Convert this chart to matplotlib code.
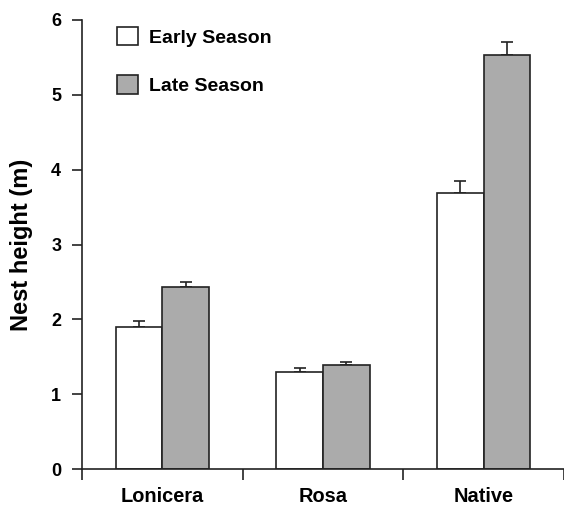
import matplotlib
matplotlib.use('Agg')
import matplotlib.pyplot as plt
import numpy as np

plt.rcParams['font.family'] = ['Liberation Sans', 'DejaVu Sans']
plt.rcParams['font.weight'] = 'bold'

# data
categories = ['Lonicera', 'Rosa', 'Native']
early = [1.90, 1.30, 3.69]
early_se = [0.08, 0.05, 0.16]
late = [2.43, 1.39, 5.53]
late_se = [0.07, 0.04, 0.17]
series_names = ['Early Season', 'Late Season']

fig = plt.figure(figsize=(5.64, 5.08), dpi=100)
ax = fig.add_axes([82/564, 39/508, 482/564, 449/508])

x = np.arange(len(categories)) + 0.5
w = 0.29
edge = '#222222'
ax.bar(x - w/2, early, w, color='white', edgecolor=edge, linewidth=1.2,
       label=series_names[0], zorder=2)
ax.bar(x + w/2, late, w, color='#ababab', edgecolor=edge, linewidth=1.2,
       label=series_names[1], zorder=2)
ax.errorbar(x - w/2, early, yerr=[np.zeros(3), early_se], fmt='none',
            ecolor=edge, elinewidth=1.2, capsize=4.3, capthick=1.2, zorder=1)
ax.errorbar(x + w/2, late, yerr=[np.zeros(3), late_se], fmt='none',
            ecolor=edge, elinewidth=1.2, capsize=4.3, capthick=1.2, zorder=1)

ax.set_xlim(0, 3)
ax.set_ylim(0, 6)
for s in ['top', 'right']:
    ax.spines[s].set_visible(False)
for s in ['left', 'bottom']:
    ax.spines[s].set_linewidth(1.2)
    ax.spines[s].set_color(edge)
    ax.spines[s].set_clip_on(False)

# category separators as ticks below the axis
ax.set_xticks([0, 1, 2, 3])
ax.set_xticklabels([])
ax.tick_params(axis='x', which='major', direction='out', length=8, width=1.2, color=edge)
ax.set_xticks(x, minor=True)
ax.set_xticklabels(categories, minor=True, fontsize=14.4, fontweight='bold')
ax.tick_params(axis='x', which='minor', length=0, pad=13)

ax.set_yticks(np.arange(0, 7, 1))
ax.tick_params(axis='y', direction='out', length=7, width=1.2, color=edge,
               labelsize=13, pad=8)
for t in ax.get_yticklabels():
    t.set_fontweight('bold')
ax.set_ylabel('Nest height (m)', fontsize=17, fontweight='bold', labelpad=13)

ax.legend(loc='upper left', bbox_to_anchor=(0.0726, 0.985), frameon=False,
          borderpad=0, borderaxespad=0,
          handlelength=1.1, handleheight=1.1, handletextpad=0.57,
          labelspacing=1.45, prop={'size': 14, 'weight': 'bold'})

fig.savefig('out.png', dpi=100)
